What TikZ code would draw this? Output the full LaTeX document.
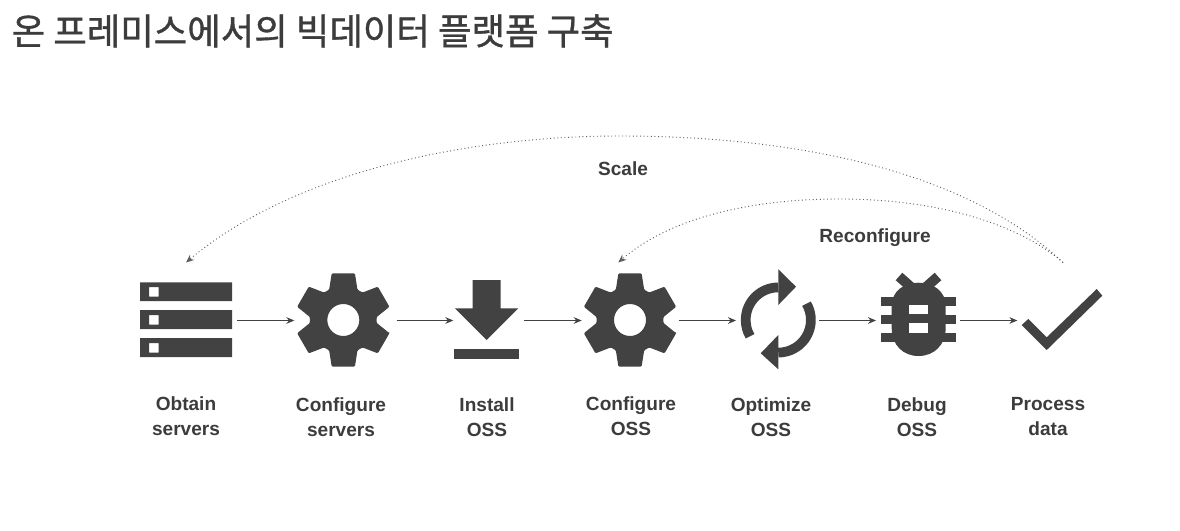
\documentclass[tikz,border=0pt]{standalone}
\usepackage{fontspec}
\setmainfont{Liberation Sans}
\newfontfamily\titlefont[FakeBold=1]{Noto Sans CJK KR}
\usetikzlibrary{arrows.meta}
\definecolor{iconGray}{HTML}{424242}
\definecolor{titleGray}{HTML}{3C3C3C}
\newcommand{\gearIcon}[2]{\fill[iconGray, even odd rule, rounded corners=0.8pt, shift={(#1,#2)}] (16:48) \foreach \a in {30,90,150,210,270,330} { -- (\a-14:48) -- (\a+14:48) -- (\a+25:33.5) -- (\a+35:33.5)} -- cycle (0,0) circle (16);}
\begin{document}
\begin{tikzpicture}[x=0.75pt, y=-0.75pt]
  \tikzset{iconNode/.style={inner sep=0pt, outer sep=0pt, minimum height=87pt}}
  \tikzset{stepLabel/.style={align=center, font=\fontsize{14.3}{18.75}\selectfont\bfseries, text=titleGray}}
  \tikzset{stepArrow/.style={-{Stealth[length=6pt, width=5pt]}, iconGray, line width=0.75pt}}
  \tikzset{loopArrow/.style={-{Stealth[length=6pt, width=5pt]}, iconGray!85, line width=0.7pt, dotted}}
  \useasboundingbox[fill=white] (0,0) rectangle (1180,531);
  \node[anchor=west, font=\titlefont\fontsize{27.3}{32}\selectfont, text=titleGray] (Title) at (7,31) {온 프레미스에서의 빅데이터 플랫폼 구축};
  \node[iconNode, minimum width=76.95pt] (Srv-1) at (186,320.5) {};
  \node[iconNode, minimum width=76.8pt] (Gear-1) at (345.5,320.5) {};
  \node[iconNode, minimum width=53pt] (Inst-1) at (488.65,320.5) {};
  \node[iconNode, minimum width=73pt] (Gear-2) at (630.35,320.5) {};
  \node[iconNode, minimum width=62.25pt] (Sync-1) at (777.5,320.5) {};
  \node[iconNode, minimum width=63pt] (Bug-1) at (918,320.5) {};
  \node[iconNode, minimum width=68.5pt] (Check-1) at (1063,320.5) {};
  % servers
  \fill[iconGray, even odd rule] (140,282.3) rectangle (232,301) (149,287) rectangle (158.5,296.5);
  \fill[iconGray, even odd rule] (140,310) rectangle (232,329) (149,315) rectangle (158.5,324.5);
  \fill[iconGray, even odd rule] (140,338) rectangle (232,357) (149,343) rectangle (158.5,352.5);
  \gearIcon{343.3}{320}
  % install
  \fill[iconGray] (472.7,280) -- (500.7,280) -- (500.7,308.3) -- (518.3,308.3) -- (486.7,340) -- (455,308.3) -- (472.7,308.3) -- cycle;
  \fill[iconGray] (454.3,349.3) rectangle (519,359);
  \gearIcon{630}{320}
  % sync
  \draw[iconGray, line width=7.3pt] (778.3,287.4) arc[start angle=-90, end angle=-210, radius=32.6];
  \draw[iconGray, line width=7.3pt] (806.5,303.7) arc[start angle=-30, end angle=90, radius=32.6];
  \fill[iconGray] (778.3,269.3) -- (796,286.7) -- (778.3,305) -- cycle;
  \fill[iconGray] (778.3,335) -- (760.7,353.3) -- (778.3,369.3) -- cycle;
  % bug
  \fill[iconGray] (891.7,306) .. controls (891.7,291) and (904,282.7) .. (918.5,282.7) .. controls (933,282.7) and (945.7,291) .. (945.7,306) -- (945.7,328) .. controls (945.7,345) and (934,356) .. (918.5,356) .. controls (903,356) and (891.7,345) .. (891.7,328) -- cycle;
  \fill[iconGray] (881,296.7) rectangle (955.7,305.7);
  \fill[iconGray] (881,315) rectangle (955.7,324);
  \fill[iconGray] (881,333.3) rectangle (955.7,342.3);
  \draw[iconGray, line width=7.5pt] (899,276.5) -- (912,288);
  \draw[iconGray, line width=7.5pt] (938,276.5) -- (925,288);
  \fill[white] (909,305) rectangle (927.7,314.3);
  \fill[white] (909,323.3) rectangle (927.7,332.7);
  % check
  \fill[iconGray] (1021.7,325) -- (1028.3,319) -- (1046.7,337.3) -- (1096.7,289) -- (1102.3,295.7) -- (1046.7,350) -- cycle;
  \draw[stepArrow] (Srv-1) -- (Gear-1);
  \draw[stepArrow] (Gear-1) -- (Inst-1);
  \draw[stepArrow] (Inst-1) -- (Gear-2);
  \draw[stepArrow] (Gear-2) -- (Sync-1);
  \draw[stepArrow] (Sync-1) -- (Bug-1);
  \draw[stepArrow] (Bug-1) -- (Check-1);
  \draw[loopArrow] (Check-1.north) .. controls (960,165) and (780,136) .. (620,136) .. controls (460,136) and (290,175) .. (Srv-1.north);
  \draw[loopArrow] (Check-1.north) .. controls (1020,225) and (940,199) .. (840,199) .. controls (740,199) and (665,222) .. ([xshift=-9pt]Gear-2.north);
  \node[stepLabel] (Lbl-Scale) at (623,168.5) {Scale};
  \node[stepLabel] (Lbl-Reconf) at (875,238) {Reconfigure};
  \node[stepLabel] (Lbl-1) at (186,416.5) {Obtain\\servers};
  \node[stepLabel] (Lbl-2) at (341,417.5) {Configure\\servers};
  \node[stepLabel] (Lbl-3) at (487,417) {Install\\OSS};
  \node[stepLabel] (Lbl-4) at (631,416) {Configure\\OSS};
  \node[stepLabel] (Lbl-5) at (771,417) {Optimize\\OSS};
  \node[stepLabel] (Lbl-6) at (917,417) {Debug\\OSS};
  \node[stepLabel] (Lbl-7) at (1048,417) {Process\\data};
\end{tikzpicture}
\end{document}
